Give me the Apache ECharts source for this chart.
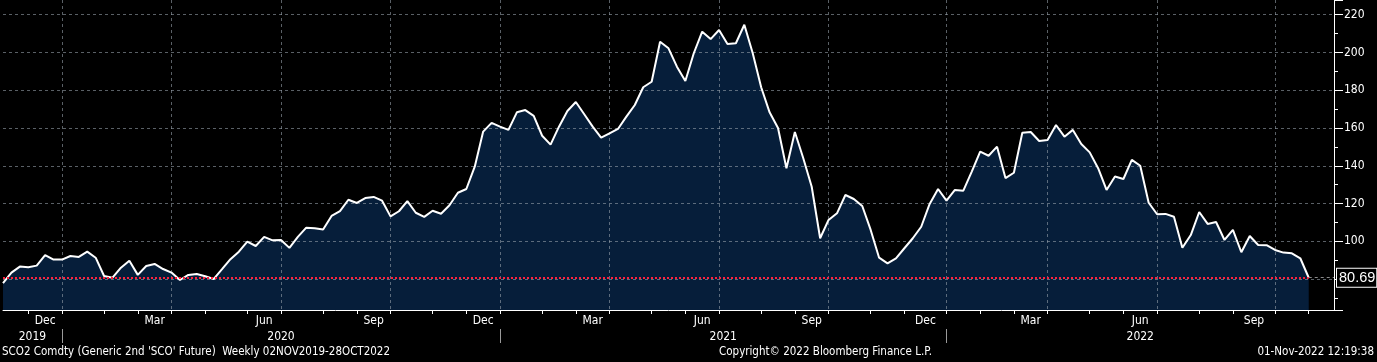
<!DOCTYPE html>
<html>
<head>
<meta charset="utf-8">
<script src="https://cdn.jsdelivr.net/npm/echarts@6/dist/echarts.min.js"></script>
<style>
html, body { margin: 0; padding: 0; background: #000; }
#chart { width: 1377px; height: 362px; }
</style>
</head>
<body>
<div id="chart"></div>
<script>
// ---- data ----
const START_DATE = '2019-11-15';   // first visible weekly point
const PAD_WEEKS = 3;               // empty weeks after the last point
const prices = [
  77.8, 83.4, 86.6, 86.2, 87.1, 92.7, 90.3, 90.3, 92.2, 91.7,
  94.5, 91.3, 81.6, 80.7, 86.0, 89.7, 82.2, 86.9, 88.0, 85.3,
  83.4, 79.5, 82.2, 82.7, 81.5, 80.0, 85.2, 90.5, 94.5, 99.8,
  97.5, 102.3, 100.5, 100.7, 96.5, 102.3, 107.2, 106.9, 106.2, 113.4,
  116.0, 122.0, 120.3, 122.9, 123.5, 121.5, 113.2, 115.9, 121.3, 115.1,
  112.9, 116.2, 114.6, 119.1, 125.7,
  127.7, 139.5, 158.1, 162.7, 160.7, 159.0, 168.3, 169.5, 166.4, 155.9,
  151.2, 160.7, 169.0, 173.8, 167.3, 160.7, 154.9, 157.2, 159.5, 166.0,
  172.2, 181.6, 184.5, 205.7, 202.2, 192.5, 184.9, 199.6, 211.0, 207.1,
  211.9, 204.5, 204.9, 214.7, 199.6, 181.6, 168.3, 160.0, 138.7, 157.9,
  144.0, 128.9, 101.6, 111.3, 114.8, 124.5, 122.4, 118.7, 106.0, 91.3,
  88.3, 91.0,
  96.3, 101.6, 107.7, 119.8, 127.7, 121.5, 127.2, 126.8, 136.9, 147.5,
  145.3, 150.1, 133.5, 136.3, 157.5, 157.9, 153.1, 153.7, 161.6, 155.4,
  159.0, 151.5, 147.1, 138.7, 127.2, 134.3, 133.0, 143.1, 140.0, 120.4,
  114.3, 114.5, 113.0, 96.6, 103.3, 115.5, 109.2, 110.2, 100.7, 106.0,
  94.2, 102.8, 98.0, 97.9, 95.4, 94.0, 93.6, 91.0, 80.69
];
const LAST_PRICE = 80.69;
const monthNames = ['Jan','Feb','Mar','Apr','May','Jun','Jul','Aug','Sep','Oct','Nov','Dec'];
const labelMonths = [11, 2, 5, 8];        // Dec, Mar, Jun, Sep
const gridMonths = [0, 3, 6, 9];          // quarter gridlines
const Y_MIN = 63.6, Y_MAX = 227.8;
const titleText = "SCO2 Comdty (Generic 2nd 'SCO' Future)  Weekly 02NOV2019-28OCT2022";
const copyrightText = 'Copyright\u00a9 2022 Bloomberg Finance L.P.';
const stampText = '01-Nov-2022 12:19:38';

const FONT = '"DejaVu Sans Condensed", "DejaVu Sans", sans-serif';

// ---- weekly categories ----
const DAY = 86400000;
const t0 = Date.parse(START_DATE + 'T00:00:00Z');
const dateObjs = [];
for (let i = 0; i < prices.length + PAD_WEEKS; i++) dateObjs.push(new Date(t0 + i * 7 * DAY));
const dates = dateObjs.map(d => d.toISOString().slice(0, 10));

const monthTicks = [];
dateObjs.forEach((d, i) => { if (d.getUTCDate() <= 7) monthTicks.push(i); });
const monthTickSet = new Set(monthTicks);
const quarterSet = new Set(monthTicks.filter(i => gridMonths.includes(dateObjs[i].getUTCMonth())));
const yearStarts = monthTicks.filter(i => dateObjs[i].getUTCMonth() === 0);

// half-week slots for centred labels
const nSlots = 2 * (dates.length - 1) + 1;
const monthAxisData = new Array(nSlots).fill('');
for (let k = 0; k < monthTicks.length - 1; k++) {
  const a = monthTicks[k], b = monthTicks[k + 1];
  const m = dateObjs[a].getUTCMonth();
  if (labelMonths.includes(m)) monthAxisData[a + b] = monthNames[m];
}
const yearAxisData = new Array(nSlots).fill('');
const bounds = [0, ...yearStarts, dates.length - 1];
for (let k = 0; k < bounds.length - 1; k++) {
  const a = bounds[k], b = bounds[k + 1];
  yearAxisData[a + b] = String(dateObjs[a].getUTCFullYear());
}
const yearSepSet = new Set(yearStarts.map(i => 2 * i));

const gridColor = 'rgba(150,160,170,0.6)';
const lastIdx = prices.length - 1;

const chart = echarts.init(document.getElementById('chart'), null, { renderer: 'canvas' });
chart.setOption({
  backgroundColor: '#000',
  animation: false,
  grid: { left: 0, top: 0, right: 43, bottom: 52, containLabel: false },
  xAxis: [
    {
      type: 'category', data: dates, boundaryGap: false, z: 2,
      axisLine: { show: true, lineStyle: { color: '#fff', width: 1 } },
      axisTick: { show: true, interval: (i) => monthTickSet.has(i), length: 4, lineStyle: { color: '#fff' } },
      axisLabel: { show: false },
      splitLine: { show: true, interval: (i) => quarterSet.has(i), lineStyle: { color: gridColor, type: [3, 3], width: 1 } }
    },
    {
      type: 'category', data: monthAxisData, boundaryGap: false, position: 'bottom', z: 2,
      axisLine: { show: false }, axisTick: { show: false }, splitLine: { show: false },
      axisLabel: { interval: 0, color: '#fff', fontSize: 12, fontFamily: FONT, margin: 5 }
    },
    {
      type: 'category', data: yearAxisData, boundaryGap: false, position: 'bottom', offset: 19, z: 2,
      axisLine: { show: false }, splitLine: { show: false },
      axisTick: { show: true, interval: (i) => yearSepSet.has(i), length: 14, lineStyle: { color: '#9a9a9a' } },
      axisLabel: { interval: 0, color: '#fff', fontSize: 12, fontFamily: FONT, margin: 2 }
    }
  ],
  yAxis: {
    type: 'value', position: 'right', min: Y_MIN, max: Y_MAX, splitNumber: 8, z: 2,
    axisLine: { show: true, lineStyle: { color: '#fff', width: 1 } },
    axisTick: { show: true, length: 9, lineStyle: { color: '#fff', width: 1 } },
    minorTick: { show: true, splitNumber: 2, length: 4, lineStyle: { color: '#fff' } },
    axisLabel: { color: '#fff', fontSize: 12, fontFamily: FONT, margin: 10, showMinLabel: false, showMaxLabel: false },
    splitLine: { show: true, showMinLine: false, showMaxLine: false, lineStyle: { color: gridColor, type: [3, 3], width: 1 } }
  },
  series: [
    {
      type: 'line', data: prices, symbol: 'none', z: 1, silent: true,
      lineStyle: { width: 0 },
      areaStyle: { color: '#061e3a', opacity: 1 }
    },
    {
      type: 'line', data: prices, symbol: 'none', z: 3, silent: true,
      lineStyle: { color: '#fff', width: 2 },
      markLine: {
        silent: true, symbol: 'none', animation: false,
        data: [
          [
            { coord: [dates[0], LAST_PRICE], lineStyle: { color: '#ff1f3c', type: [2, 2], width: 2 }, label: { show: false } },
            { coord: [dates[lastIdx], LAST_PRICE] }
          ],
          [
            {
              coord: [dates[lastIdx], LAST_PRICE],
              lineStyle: { color: '#8a8a8a', type: [3, 3], width: 1 },
              label: {
                show: true, position: 'end', distance: 3,
                formatter: () => LAST_PRICE.toFixed(2),
                color: '#fff', fontSize: 14.5, fontFamily: '"Liberation Sans Narrow", "Liberation Sans", sans-serif',
                backgroundColor: '#000', borderColor: '#fff', borderWidth: 1, padding: [2, 1, 1, 2]
              }
            },
            { coord: [dates[dates.length - 1], LAST_PRICE] }
          ]
        ]
      }
    }
  ],
  graphic: [
    { type: 'text', left: 2, top: 346, style: { text: titleText, fill: '#fff', fontSize: 11.5, fontFamily: FONT } },
    { type: 'text', left: 719, top: 346, style: { text: copyrightText, fill: '#fff', fontSize: 11.5, fontFamily: FONT } },
    { type: 'text', right: 3, top: 346, style: { text: stampText, fill: '#fff', fontSize: 11.5, fontFamily: FONT } }
  ]
});
</script>
</body>
</html>
